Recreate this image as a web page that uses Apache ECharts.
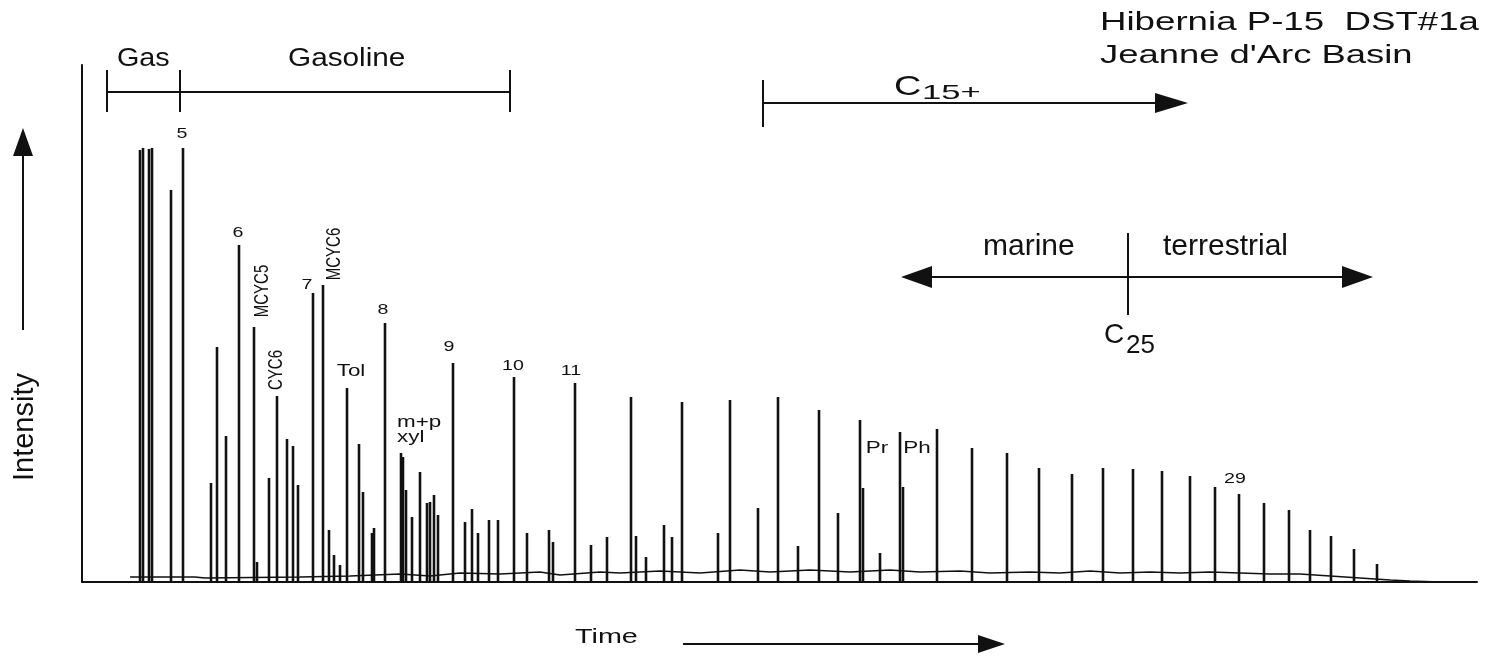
<!DOCTYPE html>
<html>
<head>
<meta charset="utf-8">
<script src="https://cdn.jsdelivr.net/npm/echarts@6/dist/echarts.min.js"></script>
<style>html,body{margin:0;padding:0;background:#fff;}#c{width:1485px;height:656px;}</style>
</head>
<body>
<div id="c"></div>
<script>
// ---- data (retention time in arbitrary units, intensity in arbitrary units) ----
const peakTimes = [58,61,67,70,89,101,129,135,144,157,172,175,187,195,205,211,216,231,241,247,252,258,265,277,281,290,292,303,319,321,324,330,338,345,348,352,356,371,383,390,396,407,416,432,445,467,471,493,509,525,549,554,564,582,590,600,636,648,676,696,716,737,756,778,781,798,818,821,855,890,925,957,990,1021,1051,1080,1108,1133,1157,1182,1207,1228,1249,1272,1295,1317];
const peakHeights = [432,434,433,434,392,434,99,235,146,337,255,20,104,186,143,136,97,289,297,52,27,17,194,138,90,49,54,259,129,125,92,65,110,79,80,87,67,219,60,73,49,62,62,205,49,52,40,199,37,45,185,46,25,57,45,180,49,182,74,185,36,172,69,162,94,29,150,95,153,134,129,114,108,114,113,111,106,95,88,79,72,52,46,33,18,2];
const baseTimes = [48,113,123,218,268,318,348,378,418,458,478,518,538,578,618,658,688,728,768,808,838,878,908,948,978,1008,1038,1068,1098,1128,1158,1188,1218,1248,1278,1308,1328,1358];
const baseHeights = [5,5,4,5,6,8,6,9,8,10,7,10,9,11,9,12,10,12,10,12,10,11,9,10,9,11,9,10,9,10,9,8,8,6,4,2,1,0];
const peakLabelTexts = ['5','6','MCYC5','CYC6','7','MCYC6','Tol','8','m+p','xyl','9','10','11','Pr','Ph','29'];
const peakLabelTimes = [101,157,172,195,231,241,265,303,319,319,371,432,493,778,818,1157];

// ---- layout / style ----
const FONT = '"Liberation Sans", Arial, Helvetica, sans-serif';
const INK = '#111111';
const labelLayout = {
  '5':{dx:-1,dy:-14}, '6':{dx:-1,dy:-12}, 'MCYC5':{dx:8,dy:-36,rot:true}, 'CYC6':{dx:-1,dy:-26,rot:true},
  '7':{dx:-6,dy:-8}, 'MCYC6':{dx:11,dy:-31,rot:true}, 'Tol':{dx:4,dy:-16,size:16}, '8':{dx:-2,dy:-13},
  'm+p':{dx:-4,dy:-30,left:true,size:16}, 'xyl':{dx:-4,dy:-15,left:true,size:16}, '9':{dx:-4,dy:-16},
  '10':{dx:-1,dy:-11}, '11':{dx:-4,dy:-12}, 'Pr':{dx:17,dy:29,size:16}, 'Ph':{dx:17,dy:17,size:16}, '29':{dx:-4,dy:-15}
};

const chart = echarts.init(document.getElementById('c'), null, {renderer:'canvas'});
const peakData = peakTimes.map((t,i)=>[t, peakHeights[i]]);
const baseData = baseTimes.map((t,i)=>[t, baseHeights[i]]);

chart.setOption({
  animation:false,
  backgroundColor:'#fff',
  grid:{left:82,right:8,top:65,bottom:74,containLabel:false},
  xAxis:{type:'value',min:0,max:1395,axisLine:{show:true,lineStyle:{color:INK,width:2}},axisTick:{show:false},axisLabel:{show:false},splitLine:{show:false}},
  yAxis:{type:'value',min:0,max:517,axisLine:{show:true,lineStyle:{color:INK,width:2}},axisTick:{show:false},axisLabel:{show:false},splitLine:{show:false}},
  series:[
    {type:'bar',name:'peaks',data:peakData,barWidth:2.6,itemStyle:{color:INK},silent:true},
    {type:'line',name:'baseline',data:baseData,symbol:'none',lineStyle:{color:INK,width:1.6},silent:true,z:3}
  ]
});

function txt(text,x,y,size,opts){
  opts=opts||{};
  return {type:'text',x:x,y:y,scaleX:opts.sx||1,scaleY:opts.sy||1,rotation:opts.rot||0,z:100,
    style:{text:text,font:size+'px '+FONT,fill:INK,textAlign:opts.align||'left',verticalAlign:'middle',textVerticalAlign:'middle'}};
}
function line(x1,y1,x2,y2,w){return {type:'line',z:100,shape:{x1,y1,x2,y2},style:{stroke:INK,lineWidth:w||2}};}
function poly(pts){return {type:'polygon',z:100,shape:{points:pts},style:{fill:INK}};}

const g = [];
// title
g.push(txt('Hibernia P-15  DST#1a',1100,23,26,{sx:1.41}));
g.push(txt("Jeanne d'Arc Basin",1100,56,26,{sx:1.40}));
// Gas / Gasoline bracket
g.push(txt('Gas',117,59,25,{sx:1.15}));
g.push(txt('Gasoline',288,59,25,{sx:1.19}));
g.push(line(107,92,510,92,2));
g.push(line(107,70,107,112,2));
g.push(line(180,70,180,112,2));
g.push(line(510,70,510,112,2));
// C15+
g.push(line(763,80,763,127,2));
g.push(line(763,103,1160,103,2));
g.push(poly([[1155,93],[1188,103],[1155,113]]));
g.push(txt('C',894,87,28,{sx:1.35}));
g.push(txt('15+',922,93,21,{sx:1.65}));
// marine / terrestrial
g.push(line(925,277,1350,277,2));
g.push(poly([[901,277],[932,266],[932,288]]));
g.push(poly([[1373,277],[1342,266],[1342,288]]));
g.push(line(1128,233,1128,315,2));
g.push(txt('marine',983,247,30));
g.push(txt('terrestrial',1163,247,30));
g.push(txt('C',1104,335,28));
g.push(txt('25',1126,346,26));
// axis titles
g.push(txt('Intensity',25,427,29,{rot:Math.PI/2,align:'center'}));
g.push(line(23,152,23,330,2));
g.push(poly([[23,128],[13,156],[33,156]]));
g.push(txt('Time',575,637,21,{sx:1.37}));
g.push(line(683,644,982,644,2));
g.push(poly([[1005,644],[978,635],[978,653]]));

// peak labels anchored to peak tops through the chart's scales
peakLabelTexts.forEach((s,i)=>{
  const t = peakLabelTimes[i];
  const k = peakTimes.indexOf(t);
  const p = chart.convertToPixel({gridIndex:0},[t, peakHeights[k]]);
  const L = labelLayout[s];
  const size = L.size || (L.rot ? 15 : 14);
  if (L.rot) {
    g.push(txt(s,p[0]+L.dx,p[1]+L.dy,size,{rot:Math.PI/2,align:'center',sy:1.35}));
  } else {
    g.push(txt(s,p[0]+L.dx,p[1]+L.dy,size,{sx:1.4,align:L.left?'left':'center'}));
  }
});

chart.setOption({graphic:{elements:g}});
</script>
</body>
</html>
